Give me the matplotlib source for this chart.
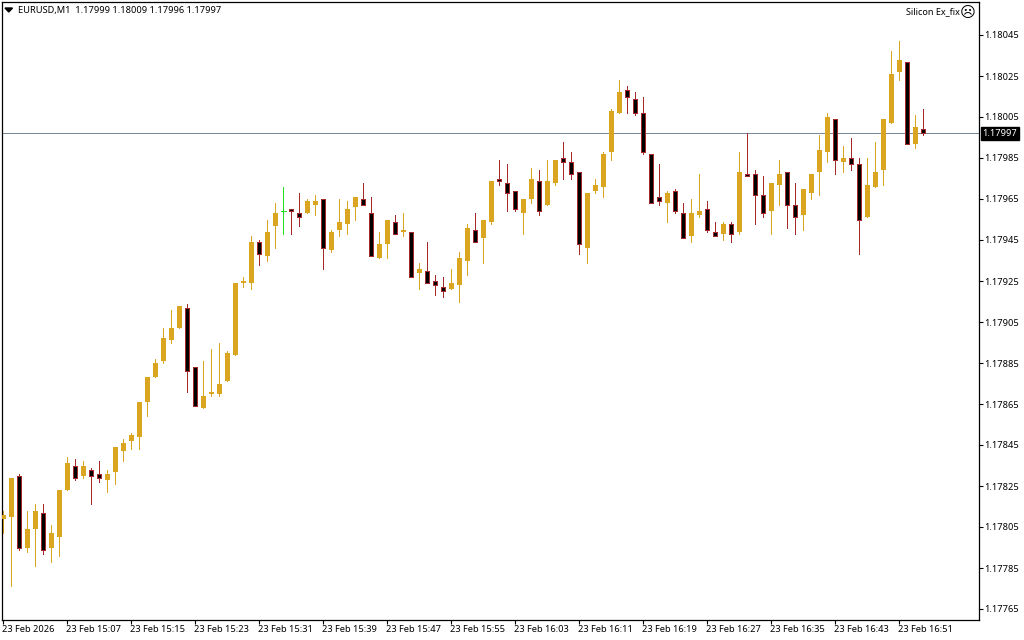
import matplotlib
matplotlib.use("Agg")
import matplotlib.pyplot as plt
from matplotlib.transforms import ScaledTranslation
import numpy as np

# prices in points above 1.17000, one entry per M1 candle (14:59 -> 16:54)
opens_pts = [809, 810, 830, 795, 804, 812, 795, 800, 823, 835,
             830, 833, 831, 828, 832, 842, 847, 849, 866, 878,
             886, 896, 902, 912, 883, 863, 870, 870, 876, 889,
             924, 924, 944, 937, 952, 959, 960, 958, 958, 962,
             965, 940, 950, 953, 961, 965, 958, 936, 943, 954,
             949, 949, 929, 930, 925, 922, 921, 923, 935, 950,
             946, 954, 975, 973, 969, 958, 965, 974, 962, 973,
             985, 983, 978, 941, 969, 971, 988, 1007, 1018, 1014,
             1007, 987, 966, 963, 969, 958, 947, 957, 960, 949,
             948, 953, 949, 977, 977, 967, 959, 972, 978, 962,
             957, 968, 978, 988, 1004, 983, 985, 982, 956, 971,
             979, 1002, 1027, 1032, 992, 999]
highs_pts = [813, 829, 831, 813, 816, 816, 806, 823, 839, 838,
             837, 834, 837, 833, 844, 848, 851, 866, 878, 887,
             902, 911, 913, 914, 883, 886, 892, 895, 891, 924,
             927, 947, 945, 955, 963, 971, 960, 968, 965, 967,
             965, 950, 965, 964, 966, 973, 966, 949, 955, 957,
             958, 949, 934, 944, 928, 927, 931, 939, 953, 958,
             955, 974, 984, 982, 969, 965, 980, 979, 984, 984,
             993, 988, 978, 968, 975, 988, 1009, 1023, 1020, 1017,
             1015, 987, 982, 969, 970, 963, 965, 977, 964, 954,
             954, 954, 988, 997, 979, 976, 973, 984, 978, 973,
             970, 977, 996, 1007, 1004, 991, 995, 985, 985, 993,
             1004, 1037, 1042, 1032, 1006, 1009]
lows_pts = [802, 776, 794, 793, 786, 792, 788, 791, 823, 828,
            829, 816, 827, 822, 826, 837, 843, 843, 859, 878,
            885, 895, 902, 871, 864, 863, 869, 869, 876, 889,
            922, 921, 933, 935, 941, 948, 948, 952, 958, 957,
            931, 939, 947, 948, 955, 962, 937, 936, 936, 948,
            947, 927, 921, 924, 918, 917, 921, 915, 928, 944,
            934, 953, 972, 959, 959, 948, 963, 957, 962, 972,
            975, 975, 938, 934, 968, 966, 984, 1007, 1007, 1006,
            987, 963, 962, 954, 958, 946, 944, 956, 949, 947,
            945, 944, 948, 976, 953, 956, 948, 962, 951, 948,
            950, 965, 967, 983, 977, 978, 979, 938, 956, 971,
            972, 1002, 1023, 992, 990, 996]
closes_pts = [811, 829, 795, 804, 813, 794, 802, 823, 836, 829,
              835, 830, 829, 831, 844, 846, 850, 866, 878, 885,
              897, 902, 913, 881, 864, 869, 871, 875, 890, 924,
              925, 944, 938, 949, 958, 959, 959, 956, 964, 964,
              941, 949, 954, 960, 966, 962, 937, 943, 955, 948,
              950, 927, 931, 924, 923, 920, 924, 936, 951, 944,
              955, 974, 974, 968, 960, 965, 975, 959, 974, 984,
              983, 977, 943, 968, 972, 987, 1008, 1017, 1015, 1007,
              988, 963, 964, 968, 959, 946, 958, 959, 950, 947,
              953, 948, 978, 976, 967, 958, 973, 977, 962, 956,
              970, 977, 989, 1005, 984, 985, 982, 955, 972, 978,
              1004, 1026, 1033, 992, 1000, 997]

price_ticks = [1.18045, 1.18025, 1.18005, 1.17985, 1.17965, 1.17945, 1.17925, 1.17905,
               1.17885, 1.17865, 1.17845, 1.17825, 1.17805, 1.17785, 1.17765]
time_labels = ["23 Feb 2026", "23 Feb 15:07", "23 Feb 15:15", "23 Feb 15:23", "23 Feb 15:31",
               "23 Feb 15:39", "23 Feb 15:47", "23 Feb 15:55", "23 Feb 16:03", "23 Feb 16:11",
               "23 Feb 16:19", "23 Feb 16:27", "23 Feb 16:35", "23 Feb 16:43", "23 Feb 16:51"]
symbol = "EURUSD,M1"
last_ohlc = [1.17999, 1.18009, 1.17996, 1.17997]
expert_name = "Silicon Ex_fix"

GOLD = "#daa520"
BROWN = "#a52a2a"
DOJI = "#1ee01e"
FONT = "Noto Sans"
FSIZE = 6.7

base = 1.17
opens = base + np.array(opens_pts) / 1e5
highs = base + np.array(highs_pts) / 1e5
lows = base + np.array(lows_pts) / 1e5
closes = base + np.array(closes_pts) / 1e5
x = np.arange(len(opens))

W, H = 1024, 640
fig = plt.figure(figsize=(W / 100, H / 100), dpi=100)
left, right, top, bottom = 2.0, 978.5, 2.0, 619.5
ax = fig.add_axes([left / W, 1 - bottom / H, (right - left) / W, (bottom - top) / H])

# one candle = 8 px, one point = 2.05 px
ax.set_xlim((left - 3.3) / 8, (right - 3.3) / 8)
ax.set_ylim(1.18045 - (bottom - 35) / 2.05 / 1e5, 1.18045 + (35 - top) / 2.05 / 1e5)

up = closes > opens
down = closes < opens
doji = closes == opens

ax.axhline(last_ohlc[3], color="#778899", lw=0.72, zorder=1, antialiased=False)

# wicks, 1 px wide like the terminal draws them
ax.vlines(x[up], lows[up], highs[up], color=GOLD, lw=0.72, zorder=2, antialiased=False)
ax.vlines(x[down], lows[down], highs[down], color=BROWN, lw=0.72, zorder=2, antialiased=False)
ax.vlines(x[doji], lows[doji], highs[doji], color=DOJI, lw=0.72, zorder=2, antialiased=False)
ax.hlines(opens[doji], x[doji] - 0.3, x[doji] + 0.3, color=DOJI, lw=0.72, zorder=2, antialiased=False)

# bodies
ax.bar(x[up], (closes - opens)[up], bottom=opens[up], width=0.62, color=GOLD,
       lw=0, zorder=3, antialiased=False)
ax.bar(x[down], (opens - closes)[down], bottom=closes[down], width=0.5, color="black",
       edgecolor=BROWN, lw=0.72, zorder=3, antialiased=False)

ax.set_xticks(np.arange(len(time_labels)) * 8)
ax.set_xticklabels(time_labels, ha="left", fontsize=FSIZE, family=FONT)
ax.set_yticks(price_ticks)
ax.set_yticklabels([f"{p:.5f}" for p in price_ticks], fontsize=FSIZE, family=FONT)
ax.yaxis.tick_right()
ax.tick_params(axis="x", length=3, width=0.8, pad=1)
ax.tick_params(axis="y", length=3, width=0.8, pad=1)
# the date labels start a little left of their tick
shift = ScaledTranslation(-1.5 / 100, 0, fig.dpi_scale_trans)
for label in ax.get_xticklabels():
    label.set_transform(label.get_transform() + shift)
for spine in ax.spines.values():
    spine.set_linewidth(0.9)

# current price tag on the right scale
fig.text(1000 / W, 1 - 133.5 / H, f"{last_ohlc[3]:.5f}", color="white", fontsize=FSIZE, family=FONT,
         ha="center", va="center",
         bbox=dict(facecolor="black", edgecolor="black", pad=1.5))

# header text
fig.add_artist(plt.Polygon([[5 / W, 1 - 8 / H], [12.5 / W, 1 - 8 / H], [8.75 / W, 1 - 12 / H]],
                           closed=True, color="black", transform=fig.transFigure))
header = symbol + "  " + " ".join(f"{p:.5f}" for p in last_ohlc)
fig.text(18 / W, 1 - 10.5 / H, header, fontsize=FSIZE, family=FONT, va="center", ha="left")
fig.text(960 / W, 1 - 11.5 / H, expert_name, fontsize=FSIZE - 0.2, family=FONT, va="center", ha="right")
fig.text(967.5 / W, 1 - 13 / H, "\u2639", fontsize=11, family="DejaVu Sans", va="center", ha="center")

fig.savefig("out.png", dpi=100)
